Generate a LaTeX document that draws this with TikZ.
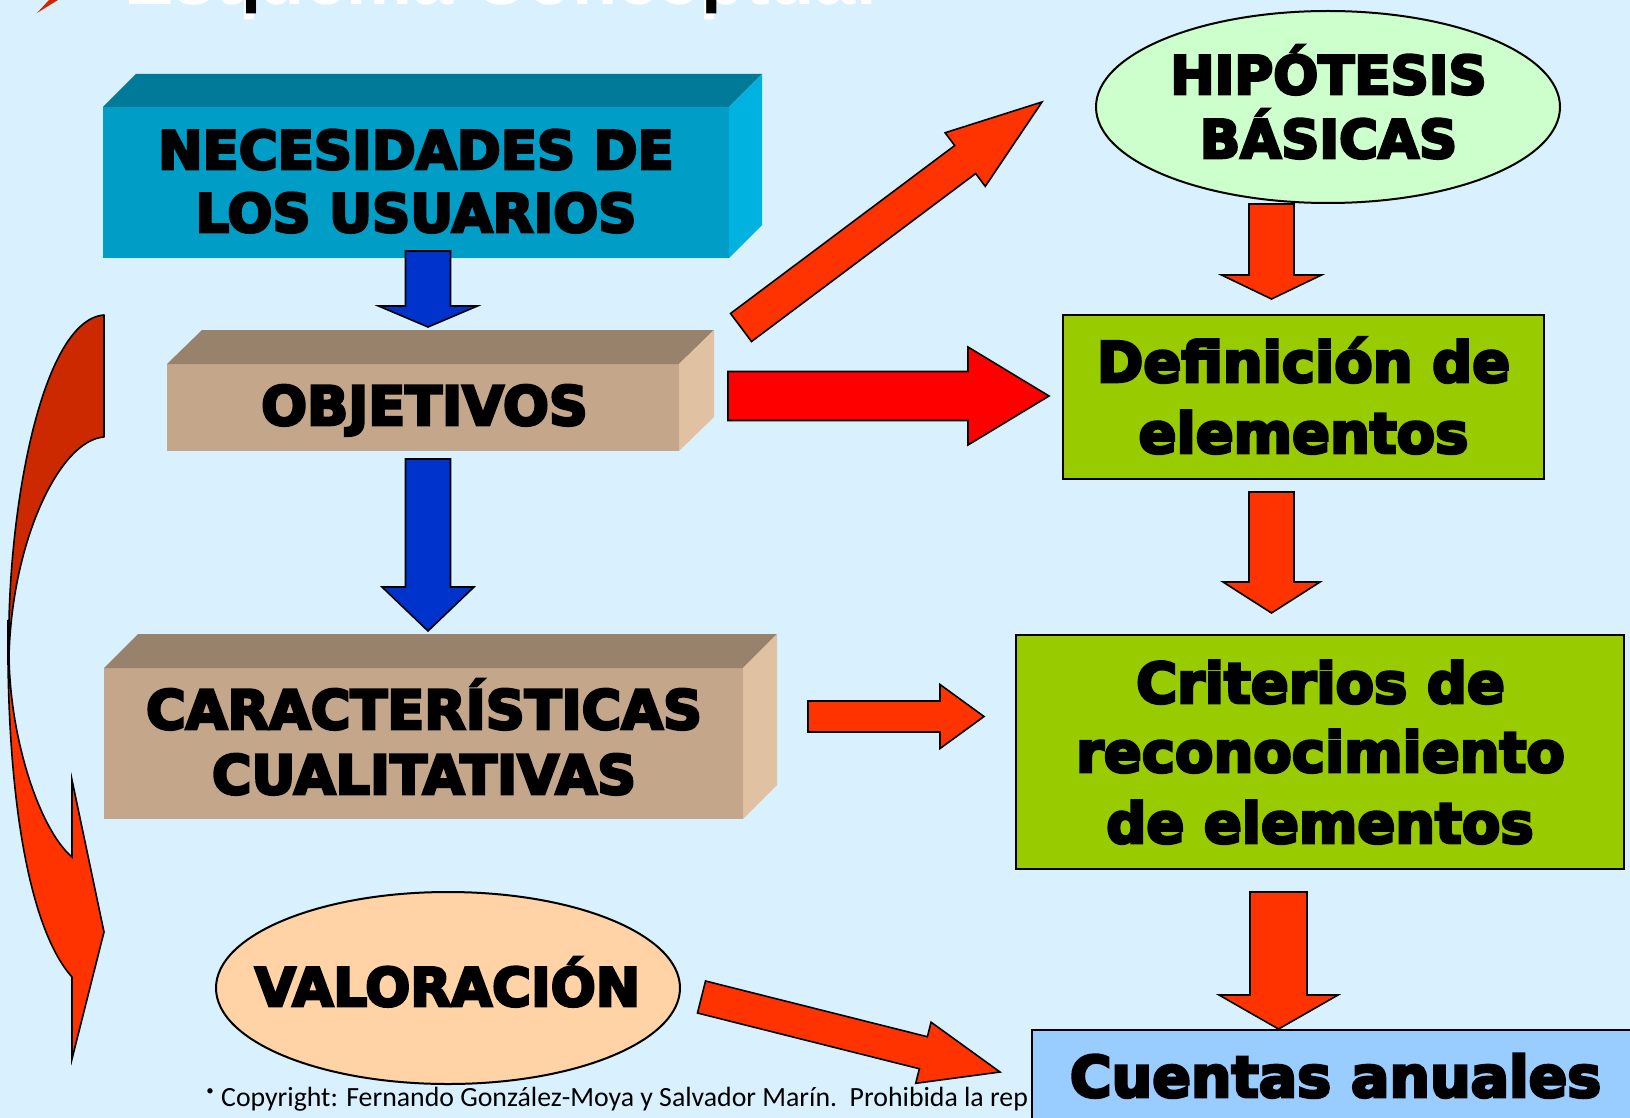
\documentclass[tikz,border=0pt]{standalone}
\usepackage{fontspec}
\usetikzlibrary{calc,shapes.geometric}
\newfontfamily\heavy{DejaVu Sans Bold}[FakeBold=5]
\newfontfamily\hand{Carlito}
\newfontfamily\titlefont{Liberation Sans Bold}
\definecolor{bg}{RGB}{217,240,254}
\definecolor{necF}{RGB}{0,158,198}
\definecolor{necT}{RGB}{0,122,152}
\definecolor{necR}{RGB}{0,178,224}
\definecolor{objF}{RGB}{196,166,138}
\definecolor{objT}{RGB}{152,130,108}
\definecolor{objR}{RGB}{224,194,162}
\definecolor{blueA}{RGB}{0,51,204}
\definecolor{redA}{RGB}{255,51,0}
\definecolor{pureRed}{RGB}{255,0,0}
\definecolor{greenB}{RGB}{153,204,0}
\definecolor{hipF}{RGB}{204,255,204}
\definecolor{valF}{RGB}{255,211,165}
\definecolor{cuF}{RGB}{153,204,255}
\definecolor{curveDark}{RGB}{204,41,0}
\newcommand\blockarrow[6]{%
  \coordinate (ba-b) at ($(#2)!#5!(#1)$);
  \draw[arrowline, fill=#6]
    ($(#1)!#3!90:(#2)$) -- ($(ba-b)!#3!90:(#2)$) -- ($(ba-b)!#4!90:(#2)$) -- (#2)
    -- ($(ba-b)!#4!-90:(#2)$) -- ($(ba-b)!#3!-90:(#2)$) -- ($(#1)!#3!-90:(#2)$) -- cycle;
}
\begin{document}
\begin{tikzpicture}[x=1pt,y=-1pt,
  arrowline/.style={draw=black, line width=1.6pt, line join=miter},
  face/.style={draw=none, inner sep=0pt, outer sep=0pt, rectangle},
  framebox/.style={draw=black, line width=2pt, inner sep=0pt, outer sep=0pt, rectangle},
  oval/.style={draw=black, line width=2pt, ellipse, inner sep=0pt, outer sep=0pt, minimum width=464pt, minimum height=192pt},
  txt/.style={inner sep=0pt, anchor=base, font=\heavy\fontsize{#1}{#1}\selectfont},
  titletxt/.style={anchor=base west, inner sep=0pt, font=\titlefont\fontsize{74}{80}\selectfont},
]
\useasboundingbox (0,0) rectangle (1630,1118);
\clip (0,0) rectangle (1630,1118);
\fill[bg] (0,0) rectangle (1630,1118);

% cut-off title (embossed) and bullet
\node[titletxt, text=white] (titlelight) at (124,5) {Esquema Conceptual};
\node[titletxt, text=black] (title) at (126,-1) {Esquema Conceptual};
\fill[curveDark] (58,0) -- (37,13) -- (49,0) -- cycle;

% curved arrow on the left
\draw[line width=1.6pt, fill=curveDark, line join=round]
  (104,315) -- (104,437) .. controls (60,440) and (12,540) .. (9,656)
  .. controls (6,520) and (40,320) .. (104,315) -- cycle;
\draw[line width=1.6pt, fill=redA, line join=miter]
  (8,620) .. controls (6,800) and (30,930) .. (72,977) -- (72,1059) -- (104,932) -- (72,780) -- (72,857)
  .. controls (40,830) and (10,740) .. (9,656) -- cycle;

% NECESIDADES box
\node[face, fill=necF, minimum width=626pt, minimum height=151pt] (nec) at (416,182.5) {};
\fill[necT] (nec.north west) -- ++(33,-33) -- ($(nec.north east)+(33,-33)$) -- (nec.north east) -- cycle;
\fill[necR] (nec.north east) -- ++(33,-33) -- ($(nec.south east)+(33,-33)$) -- (nec.south east) -- cycle;
\node[txt=53] (nec1) at (416,169) {NECESIDADES DE};
\node[txt=53] (nec2) at (416,232) {LOS USUARIOS};

% OBJETIVOS box
\node[face, fill=objF, minimum width=512pt, minimum height=87pt] (obj) at (423,407.5) {};
\fill[objT] (obj.north west) -- ++(35,-34) -- ($(obj.north east)+(35,-34)$) -- (obj.north east) -- cycle;
\fill[objR] (obj.north east) -- ++(35,-34) -- ($(obj.south east)+(35,-34)$) -- (obj.south east) -- cycle;
\node[txt=54] (obj1) at (424.5,425) {OBJETIVOS};

% CARACTERISTICAS box
\node[face, fill=objF, minimum width=639pt, minimum height=151pt] (car) at (423.5,743.5) {};
\fill[objT] (car.north west) -- ++(34,-34) -- ($(car.north east)+(34,-34)$) -- (car.north east) -- cycle;
\fill[objR] (car.north east) -- ++(34,-34) -- ($(car.south east)+(34,-34)$) -- (car.south east) -- cycle;
\node[txt=54] (car1) at (424,729) {CARACTERÍSTICAS};
\node[txt=54] (car2) at (424,794) {CUALITATIVAS};

% HIPOTESIS ellipse
\node[oval, fill=hipF] (hip) at (1328,107) {};
\node[txt=53] (hip1) at (1328.5,94) {HIPÓTESIS};
\node[txt=53] (hip2) at (1328.5,158) {BÁSICAS};

% VALORACION ellipse
\node[oval, fill=valF] (val) at (448,988) {};
\node[txt=53] (val1) at (447.5,1006) {VALORACIÓN};

% Definicion box
\node[framebox, fill=greenB, minimum width=481pt, minimum height=164pt] (def) at (1303.5,397) {};
\node[txt=56] (def1) at (1303.5,382) {Definición de};
\node[txt=56] (def2) at (1303.5,453) {elementos};

% Criterios box
\node[framebox, fill=greenB, minimum width=608pt, minimum height=234pt] (cri) at (1320,752) {};
\node[txt=56] (cri1) at (1320.5,703) {Criterios de};
\node[txt=56] (cri2) at (1320.5,772) {reconocimiento};
\node[txt=56] (cri3) at (1320,843) {de elementos};

% copyright
\node[anchor=base, inner sep=0pt, font=\hand\fontsize{15}{15}\selectfont] (bul) at (210,1095) {•};
\node[anchor=base west, inner sep=0pt, font=\hand\fontsize{27.8}{30}\selectfont] (copy) at (221,1106) {Copyright: Fernando González-Moya y Salvador Marín.\ \ Prohibida la rep};

% Cuentas anuales box
\node[framebox, fill=cuF, minimum width=613pt, minimum height=100pt] (cue) at (1338.5,1080) {};
\node[txt=57] (cue1) at (1335.5,1097) {Cuentas anuales};

% block arrows
\coordinate (a1s) at (428,251);    \coordinate (a1e) at (428,327);
\coordinate (a2s) at (428,459);    \coordinate (a2e) at (428,631);
\coordinate (a3s) at (741,327.5);  \coordinate (a3e) at (1042,102);
\coordinate (a4s) at (728,396);    \coordinate (a4e) at (1049,396);
\coordinate (a5s) at (1271.5,204); \coordinate (a5e) at (1271.5,299);
\coordinate (a6s) at (1271.5,492); \coordinate (a6e) at (1271.5,613);
\coordinate (a7s) at (808,716.5);  \coordinate (a7e) at (984,716.5);
\coordinate (a8s) at (1278.5,892); \coordinate (a8e) at (1278.5,1029);
\coordinate (a9s) at (701.5,997);  \coordinate (a9e) at (1000,1072);
\blockarrow{a1s}{a1e}{22.5pt}{49.5pt}{21pt}{blueA}
\blockarrow{a2s}{a2e}{22.5pt}{46pt}{44pt}{blueA}
\blockarrow{a3s}{a3e}{17.5pt}{33.5pt}{96pt}{redA}
\blockarrow{a4s}{a4e}{24.5pt}{49pt}{81pt}{pureRed}
\blockarrow{a5s}{a5e}{22.5pt}{50pt}{24pt}{redA}
\blockarrow{a6s}{a6e}{22.5pt}{48.5pt}{31pt}{redA}
\blockarrow{a7s}{a7e}{15.5pt}{32pt}{44pt}{redA}
\blockarrow{a8s}{a8e}{28.5pt}{59.5pt}{34pt}{redA}
\blockarrow{a9s}{a9e}{16.5pt}{31.5pt}{79pt}{redA}
\end{tikzpicture}
\end{document}
